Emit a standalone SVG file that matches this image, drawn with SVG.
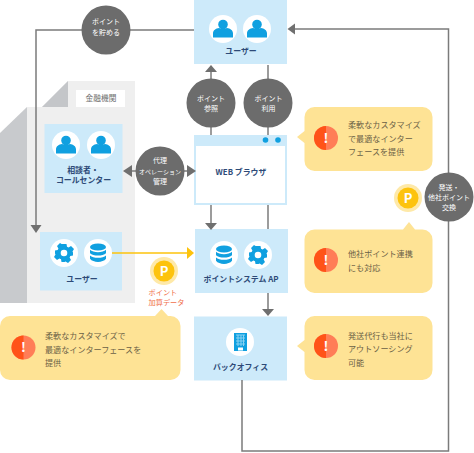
<svg xmlns="http://www.w3.org/2000/svg" width="474" height="453" viewBox="0 0 474 453">
<style>
text{font-family:"Noto Sans CJK JP","Noto Sans",sans-serif}
.box{fill:#cdeafa}
.nl{font-size:7.9px;font-weight:700;fill:#2d4a78;text-anchor:middle}
.cl{font-size:7px;fill:#fff;text-anchor:middle}
.dark{fill:#6c6c6c}
.call{fill:#fee395}
.ct{font-size:8.1px;fill:#6a6045}
.rt{font-size:7.200px;fill:#f0704a}
.line{fill:none;stroke:#7b7b7b;stroke-width:1.500}
.head{fill:#6f6f6f}
.ic{fill:#10a0e0}
.wc{fill:#fff}
</style>
<defs>
<g id="alert"><circle r="12" fill="#ff7d57"/><path d="M0-12A12 12 0 0 0 0 12Z" fill="#ff5318"/><text y="4.500" font-size="13" font-weight="700" fill="#fff" text-anchor="middle">!</text></g>
<g id="user"><circle r="14" class="wc"/><circle cy="-4.500" r="4.800" class="ic"/><path class="ic" d="M-10 8.500V4.500C-10 1-7-.5-4-1C-2-.2 2-.2 4-1C7-.5 10 1 10 4.500V8.500Z"/></g>
<g id="db"><circle r="14" class="wc"/><ellipse cy="-6" rx="8" ry="3.600" class="ic"/><path class="ic" d="M-8-3.200C-5 0 5 0 8-3.200V.2C5 3.400-5 3.400-8 .2ZM-8 2.400C-5 5.600 5 5.600 8 2.400V5.800C5 10-5 10-8 5.800Z"/></g>
<g id="gear"><circle r="14" class="wc"/><path class="ic" fill-rule="evenodd" d="M-2.500-9H2.500L3-6.300 4.600-5.600 7-7 10-4 8.500-1.600 9-.5 9 2.500 6.300 3 5.600 4.600 7 7 4 10 1.600 8.500 .5 9-2.500 9-3 6.300-4.600 5.600-7 7-10 4-8.500 1.600-9 .5-9-2.500-6.300-3-5.600-4.600-7-7-4-10-1.600-8.500ZM3.300 0A3.300 3.300 0 1 0-3.300 0A3.300 3.300 0 1 0 3.300 0Z"/></g>
<g id="pt"><circle r="14" fill="#fee9a8"/><circle r="10.500" fill="#fdc30d"/><text y="4.700" font-size="13" font-weight="700" fill="#fff" text-anchor="middle">P</text></g>
</defs>

<g id="finance-sheets">
<path d="M0 133L27 107V303H0Z" fill="#c8cacd"/>
<path d="M27 107H42L68 81H135V303H27Z" fill="#efefef"/>
<path d="M68 81V107H42Z" fill="#c4c6c9"/>
<rect x="76" y="90" width="49" height="17" fill="#fff"/>
<text x="101" y="100.500" font-size="7.700" fill="#6e6e6e" text-anchor="middle">金融機関</text>
</g>

<g id="user-top">
<rect class="box" x="194" y="0" width="93" height="64"/>
<use href="#user" x="223" y="29"/><use href="#user" x="257" y="29"/>
<text class="nl" x="241" y="54">ユーザー</text>
</g>
<g id="advisor">
<rect class="box" x="44.500" y="124" width="78" height="69"/>
<use href="#user" x="66" y="145"/><use href="#user" x="101" y="145"/>
<text class="nl" x="83" y="173">相談者・</text>
<text class="nl" x="83.500" y="183">コールセンター</text>
</g>
<g id="finance-user">
<rect class="box" x="40" y="232" width="82" height="58.500"/>
<use href="#gear" x="64" y="253"/><use href="#db" x="98" y="253"/>
<text class="nl" x="82" y="282">ユーザー</text>
</g>
<g id="browser">
<rect x="195" y="136" width="91" height="68" fill="#fff" stroke="#cdeafa" stroke-width="2"/>
<rect class="box" x="194" y="135" width="93" height="11"/>
<circle class="ic" cx="265.500" cy="140" r="2.800"/><circle class="ic" cx="278" cy="140" r="2.800"/>
<text class="nl" x="241" y="175">WEB ブラウザ</text>
</g>
<g id="point-ap">
<rect class="box" x="195" y="229" width="93" height="64"/>
<use href="#db" x="224" y="255"/><use href="#gear" x="258" y="255"/>
<text class="nl" x="241" y="282">ポイントシステム AP</text>
</g>
<g id="back-office">
<rect class="box" x="194" y="316.500" width="93" height="64"/>
<circle class="wc" cx="240" cy="342" r="14"/>
<rect class="ic" x="234" y="333" width="13" height="18"/>
<path d="M236 335H245M236 338H245M236 341H245M236 344H245M238 335V346M241 335V346M243.500 335V346" stroke="#8ad2f2" stroke-width="1" fill="none"/>
<rect x="238" y="347.500" width="5" height="3" fill="#fff"/>
<text class="nl" x="240.500" y="369.500">バックオフィス</text>
</g>

<g id="connectors">
<path class="line" d="M194 30H36V226"/>
<path class="head" d="M30.500 225H41.500L36 233Z"/>
<path class="line" d="M211 135V70"/>
<path class="head" d="M205 72H217L211 65Z"/>
<path class="line" d="M268 65V135"/>
<path class="line" d="M130 171H190"/>
<path class="head" d="M132 165V177L123 171Z"/>
<path class="head" d="M187 165V177L196 171Z"/>
<path class="line" d="M211 205V224"/>
<path class="head" d="M205 223H217L211 230Z"/>
<path class="line" d="M268 205V229"/>
<path class="line" d="M268 293V310"/>
<path class="head" d="M262 309H274L268 316Z"/>
<path class="line" d="M242 380V451H448.500V29H294"/>
<path class="head" d="M295 23.500V34.500L287.500 29Z"/>
<path d="M112 253H189" fill="none" stroke="#fdc30d" stroke-width="1.500"/>
<path d="M187 247V259L194 253Z" fill="#fdc30d"/>
</g>

<g id="label-store"><circle class="dark" cx="106" cy="30" r="24.500"/><text class="cl" x="106" y="24">ポイント</text><text class="cl" x="106" y="34.500">を貯める</text></g>
<g id="label-ref"><circle class="dark" cx="211" cy="103" r="24.500"/><text class="cl" x="211" y="100.500">ポイント</text><text class="cl" x="211" y="111">参照</text></g>
<g id="label-use"><circle class="dark" cx="268" cy="103" r="24.500"/><text class="cl" x="268.500" y="100.500">ポイント</text><text class="cl" x="268.500" y="111">利用</text></g>
<g id="label-proxy"><circle class="dark" cx="160" cy="171" r="24.500"/><text class="cl" x="160" y="163">代理</text><text class="cl" x="160" y="173.500" style="font-size:6px">オペレーション</text><text class="cl" x="160" y="183.500">管理</text></g>
<g id="label-ship"><circle class="dark" cx="449" cy="197" r="24.500"/><text class="cl" x="449" y="189.500">発送・</text><text class="cl" x="449" y="199.500">他社ポイント</text><text class="cl" x="449" y="209.500">交換</text></g>

<g id="point-1"><use href="#pt" x="164" y="271"/><text class="rt" x="148.500" y="294.500">ポイント</text><text class="rt" x="148.500" y="304.500">加算データ</text></g>
<g id="point-2"><use href="#pt" x="408" y="198"/></g>

<g id="note-left">
<path class="call" d="M0 326A10 10 0 0 1 10 316H155L161.500 309L168 316H170.500A10 10 0 0 1 180.500 326V370A10 10 0 0 1 170.500 380H10A10 10 0 0 1 0 370Z"/>
<use href="#alert" x="23.500" y="347.500"/>
<text class="ct" x="45" y="339">柔軟なカスタマイズで</text><text class="ct" x="45" y="352.500">最適なインターフェースを</text><text class="ct" x="45" y="366">提供</text>
</g>
<g id="note-1">
<path class="call" d="M304.500 117A10 10 0 0 1 314.500 107H422.500A10 10 0 0 1 432.500 117V161A10 10 0 0 1 422.500 171H314.500A10 10 0 0 1 304.500 161V143L297 137L304.500 131Z"/>
<use href="#alert" x="326" y="138"/>
<text class="ct" x="348" y="128">柔軟なカスタマイズ</text><text class="ct" x="348" y="141.500">で最適なインター</text><text class="ct" x="348" y="155">フェースを提供</text>
</g>
<g id="note-2">
<path class="call" d="M304.500 239.500A10 10 0 0 1 314.500 229.500H403L409 222L415 229.500H422.500A10 10 0 0 1 432.500 239.500V283A10 10 0 0 1 422.500 293H314.500A10 10 0 0 1 304.500 283Z"/>
<use href="#alert" x="326" y="260"/>
<text class="ct" x="348" y="257">他社ポイント連携</text><text class="ct" x="348" y="270.500">にも対応</text>
</g>
<g id="note-3">
<path class="call" d="M304.500 326A10 10 0 0 1 314.500 316H422.500A10 10 0 0 1 432.500 326V370A10 10 0 0 1 422.500 380H314.500A10 10 0 0 1 304.500 370V352L297 346L304.500 340Z"/>
<use href="#alert" x="326" y="346"/>
<text class="ct" x="348" y="338.500">発送代行も当社に</text><text class="ct" x="348" y="352">アウトソーシング</text><text class="ct" x="348" y="365.500">可能</text>
</g>
</svg>
